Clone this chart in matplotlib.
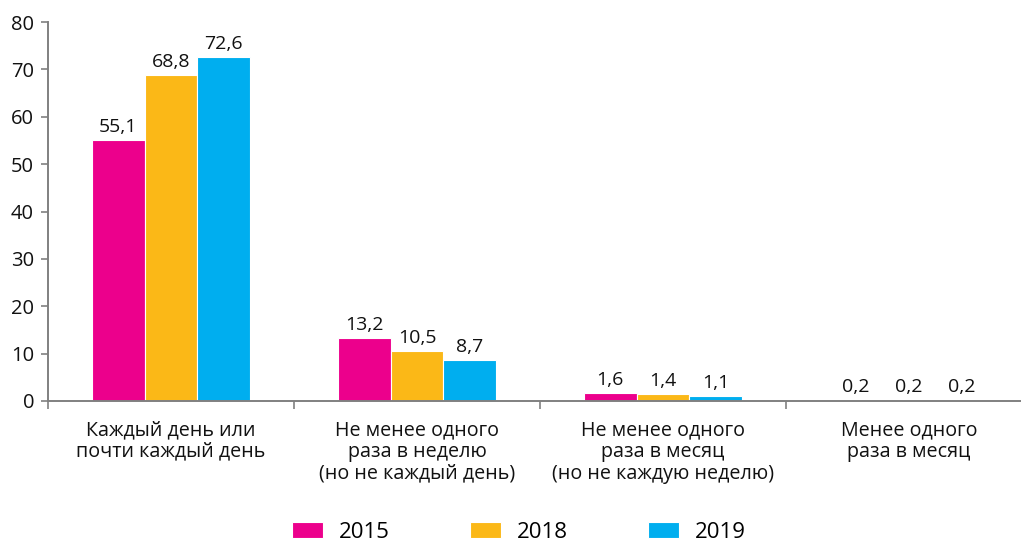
import matplotlib.pyplot as plt
import numpy as np

categories = [
    "Каждый день или\nпочти каждый день",
    "Не менее одного\nраза в неделю\n(но не каждый день)",
    "Не менее одного\nраза в месяц\n(но не каждую неделю)",
    "Менее одного\nраза в месяц",
]
years = ["2015", "2018", "2019"]
v2015 = [55.1, 13.2, 1.6, 0.2]
v2018 = [68.8, 10.5, 1.4, 0.2]
v2019 = [72.6, 8.7, 1.1, 0.2]
colors = ["#ec008c", "#fbb817", "#00aeef"]

plt.rcParams["font.family"] = ["Open Sans", "DejaVu Sans"]

fig = plt.figure(figsize=(10.21, 5.41), dpi=100)
ax = fig.add_axes([48 / 1021, 1 - 401 / 541, 984 / 1021, 379 / 541])

x = np.arange(len(categories))
width = 0.215
for i, (vals, year) in enumerate(zip([v2015, v2018, v2019], years)):
    pos = x + (i - 1) * width
    bars = ax.bar(pos, vals, width, color=colors[i], edgecolor="white",
                  linewidth=0.8, label=year)
    for b, v in zip(bars, vals):
        ax.annotate(f"{v:.1f}".replace(".", ","), (b.get_x() + b.get_width() / 2, v),
                    xytext=(0, 3), textcoords="offset points",
                    ha="center", va="bottom", fontsize=14, color="#111111")

ax.set_xlim(-0.5, len(categories) - 0.5)
ax.set_ylim(0, 80)
ax.set_yticks(range(0, 81, 10))
ax.tick_params(axis="y", labelsize=14.5, length=5, width=1.2, color="#808080",
               labelcolor="#111111", pad=5)

# group separators on the bottom axis
ax.set_xticks(np.arange(-0.5, len(categories), 1.0))
ax.set_xticklabels([])
ax.tick_params(axis="x", length=6, width=1.2, color="#808080")
for xi, cat in zip(x, categories):
    ax.text(xi, -4.0, cat, ha="center", va="top", fontsize=14.2,
            color="#111111", linespacing=1.12)

for side in ["top", "right"]:
    ax.spines[side].set_visible(False)
for side in ["left", "bottom"]:
    ax.spines[side].set_color("#808080")
    ax.spines[side].set_linewidth(1.4)

fig.legend(loc="center", bbox_to_anchor=(519 / 1021, 1 - 532 / 541), ncol=3,
           frameon=False, fontsize=16, handlelength=1.4, handleheight=0.72,
           handletextpad=0.72, columnspacing=3.6)

fig.savefig("out.png", dpi=100)
